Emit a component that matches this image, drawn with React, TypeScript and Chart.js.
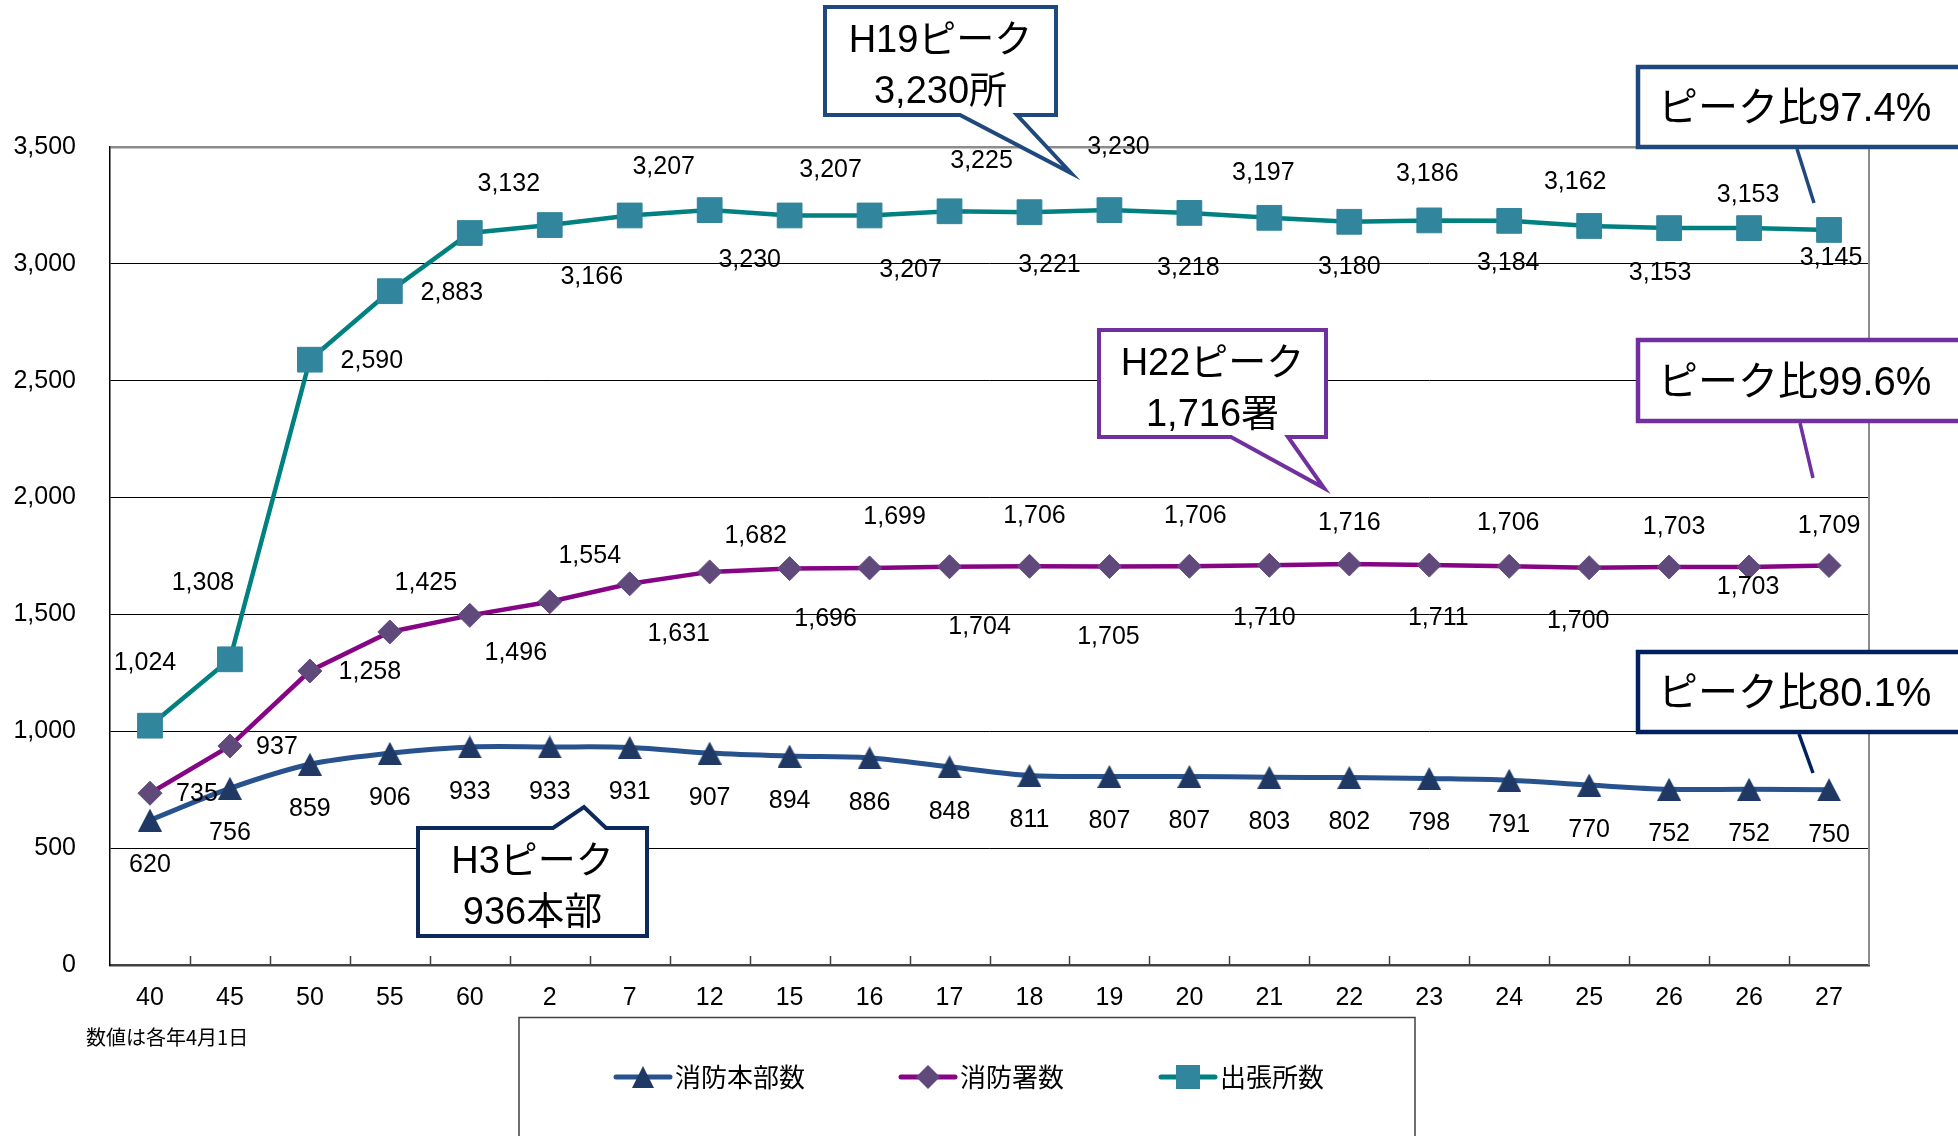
import React, { useEffect, useRef } from 'react';
import { Chart, registerables } from 'chart.js';

Chart.register(...registerables);

// ---------------- data ----------------
const categories = ['40', '45', '50', '55', '60', '2', '7', '12', '15', '16', '17', '18', '19', '20', '21', '22', '23', '24', '25', '26', '26', '27'];
const headquarters = [620, 756, 859, 906, 933, 933, 931, 907, 894, 886, 848, 811, 807, 807, 803, 802, 798, 791, 770, 752, 752, 750];
const fireStations = [735, 937, 1258, 1425, 1496, 1554, 1631, 1682, 1696, 1699, 1704, 1706, 1705, 1706, 1710, 1716, 1711, 1706, 1700, 1703, 1703, 1709];
const branchOffices = [1024, 1308, 2590, 2883, 3132, 3166, 3207, 3230, 3207, 3207, 3225, 3221, 3230, 3218, 3197, 3180, 3186, 3184, 3162, 3153, 3153, 3145];
const seriesNames = ['消防本部数', '消防署数', '出張所数'];
const yAxisMin = 0;
const yAxisMax = 3500;
const yAxisStep = 500;
const noteText = '数値は各年4月1日';

// ---------------- styling / placement ----------------
const W = 1958;
const H = 1136;
const LATIN = '"Liberation Sans", Arial, "Noto Sans CJK JP", sans-serif';
const CJK = '"Noto Sans CJK JP", "Liberation Sans", sans-serif';

const NAVY_LINE = '#28528D';
const NAVY_MARK = '#1F3864';
const PURPLE_LINE = '#850585';
const PURPLE_MARK = '#604A7B';
const TEAL_LINE = '#008080';
const TEAL_MARK = '#31859C';

// pixel offsets of each value label from its point (label placement only)
const hqLabelOffset = [0, 44];
const stationLabelOffsets = [
  [47, 0], [47, 0], [60, 0], [36, -50], [46, 37], [40, -47], [49, 49], [46, -37], [36, 49], [25, -52], [30, 59],
  [5, -51], [-1, 70], [6, -51], [-5, 52], [0, -42], [9, 52], [-1, -44], [-11, 52], [5, -41], [-1, 19], [0, -40],
];
const branchLabelOffsets = [
  [-5, -64], [-27, -77], [62, 0], [62, 1], [39, -50], [42, 51], [34, -49], [40, 49], [41, -46], [41, 54], [32, -51],
  [20, 52], [9, -64], [-1, 54], [-6, -46], [0, 44], [-2, -47], [-1, 41], [-14, -45], [-9, 44], [-1, -34], [2, 27],
];

const bubbleCallouts = [
  { lines: ['H19ピーク', '3,230所'], color: '#1F497D', box: [825, 7, 1056, 115], edge: 'bottom', a: 960, b: 1017, tip: [1071, 173] },
  { lines: ['H22ピーク', '1,716署'], color: '#7030A0', box: [1099, 330, 1326, 437], edge: 'bottom', a: 1231, b: 1288, tip: [1324, 488] },
  { lines: ['H3ピーク', '936本部'], color: '#0E2A5C', box: [418, 828, 647, 936], edge: 'top', a: 553, b: 606, tip: [584, 807] },
];
const lineCallouts = [
  { text: 'ピーク比97.4%', color: '#1F497D', box: [1638, 67, 1990, 147], from: [1797, 149], to: [1814, 203] },
  { text: 'ピーク比99.6%', color: '#7030A0', box: [1638, 340, 1990, 421], from: [1800, 423], to: [1813, 478] },
  { text: 'ピーク比80.1%', color: '#002060', box: [1638, 652, 1990, 732], from: [1799, 734], to: [1813, 773] },
];

const fmt = (v: number) => v.toLocaleString('en-US');

// triangle marker image, centred on its bounding box like the original
function makeTriangle(w: number, h: number, color: string) {
  const c = document.createElement('canvas');
  c.width = w;
  c.height = h;
  const g = c.getContext('2d')!;
  g.fillStyle = color;
  g.beginPath();
  g.moveTo(w / 2, 0);
  g.lineTo(w, h);
  g.lineTo(0, h);
  g.closePath();
  g.fill();
  return c;
}

function drawMarker(ctx: CanvasRenderingContext2D, style: string, x: number, y: number, r: number, color: string) {
  ctx.beginPath();
  if (style === 'triangle') {
    ctx.moveTo(x, y - r);
    ctx.lineTo(x + r, y + r);
    ctx.lineTo(x - r, y + r);
  } else if (style === 'rectRot') {
    ctx.moveTo(x - r, y);
    ctx.lineTo(x, y - r);
    ctx.lineTo(x + r, y);
    ctx.lineTo(x, y + r);
  } else {
    ctx.rect(x - r, y - r, 2 * r, 2 * r);
  }
  ctx.closePath();
  ctx.fillStyle = color;
  ctx.fill();
}

const decorPlugin = {
  id: 'decor',
  beforeDatasetsDraw(chart: any) {
    const { ctx, chartArea, scales } = chart;
    const xs = scales.x;
    ctx.save();
    ctx.strokeStyle = '#8c8c8c';
    ctx.lineWidth = 2;
    ctx.beginPath();
    ctx.moveTo(chartArea.right, chartArea.top);
    ctx.lineTo(chartArea.right, chartArea.bottom);
    ctx.stroke();
    const step = xs.getPixelForValue(1) - xs.getPixelForValue(0);
    ctx.strokeStyle = '#404040';
    ctx.lineWidth = 1.5;
    for (let i = 1; i < categories.length; i++) {
      const px = Math.round(xs.getPixelForValue(i) - step / 2) + 0.5;
      ctx.beginPath();
      ctx.moveTo(px, chartArea.bottom);
      ctx.lineTo(px, chartArea.bottom - 9);
      ctx.stroke();
    }
    ctx.restore();
  },
  afterDatasetsDraw(chart: any) {
    const { ctx } = chart;
    ctx.save();
    ctx.font = `25px ${LATIN}`;
    ctx.fillStyle = '#000';
    ctx.textAlign = 'center';
    ctx.textBaseline = 'middle';
    const sets = [
      { values: headquarters, offs: headquarters.map(() => hqLabelOffset) },
      { values: fireStations, offs: stationLabelOffsets },
      { values: branchOffices, offs: branchLabelOffsets },
    ];
    sets.forEach((s, di) => {
      const meta = chart.getDatasetMeta(di);
      meta.data.forEach((pt: any, i: number) => {
        const o = s.offs[i];
        ctx.fillText(fmt(s.values[i]), pt.x + o[0], pt.y + o[1] + 1);
      });
    });
    ctx.restore();
  },
  afterDraw(chart: any) {
    const { ctx } = chart;
    ctx.save();
    // bubble callouts
    bubbleCallouts.forEach((c) => {
      const [l, t, r, b] = c.box;
      ctx.beginPath();
      ctx.moveTo(l, t);
      if (c.edge === 'top') {
        ctx.lineTo(c.a, t);
        ctx.lineTo(c.tip[0], c.tip[1]);
        ctx.lineTo(c.b, t);
      }
      ctx.lineTo(r, t);
      ctx.lineTo(r, b);
      if (c.edge === 'bottom') {
        ctx.lineTo(c.b, b);
        ctx.lineTo(c.tip[0], c.tip[1]);
        ctx.lineTo(c.a, b);
      }
      ctx.lineTo(l, b);
      ctx.closePath();
      ctx.fillStyle = '#fff';
      ctx.fill();
      ctx.lineWidth = 4;
      ctx.lineJoin = 'miter';
      ctx.strokeStyle = c.color;
      ctx.stroke();
      ctx.fillStyle = '#000';
      ctx.font = `38px ${LATIN}`;
      ctx.textAlign = 'center';
      ctx.textBaseline = 'middle';
      const cx = (l + r) / 2;
      ctx.fillText(c.lines[0], cx, t + 35);
      ctx.fillText(c.lines[1], cx, t + 86);
    });
    // line callouts
    lineCallouts.forEach((c) => {
      const [l, t, r, b] = c.box;
      ctx.strokeStyle = c.color;
      ctx.lineWidth = 3.5;
      ctx.beginPath();
      ctx.moveTo(c.from[0], c.from[1]);
      ctx.lineTo(c.to[0], c.to[1]);
      ctx.stroke();
      ctx.fillStyle = '#fff';
      ctx.fillRect(l, t, r - l, b - t);
      ctx.lineWidth = 4.5;
      ctx.strokeRect(l, t, r - l, b - t);
      ctx.fillStyle = '#000';
      ctx.font = `40px ${LATIN}`;
      ctx.textAlign = 'left';
      ctx.textBaseline = 'middle';
      ctx.fillText(c.text, l + 20, (t + b) / 2 + 3);
    });
    // legend
    ctx.strokeStyle = '#404040';
    ctx.lineWidth = 1.5;
    ctx.strokeRect(519, 1017.5, 1415 - 519, 140);
    const legendItems = [
      { x: 616, color: NAVY_LINE, mark: NAVY_MARK, style: 'triangle', r: 11 },
      { x: 901, color: PURPLE_LINE, mark: PURPLE_MARK, style: 'rectRot', r: 12 },
      { x: 1161, color: TEAL_LINE, mark: TEAL_MARK, style: 'rect', r: 12 },
    ];
    const ly = 1077;
    legendItems.forEach((it, i) => {
      ctx.strokeStyle = it.color;
      ctx.lineWidth = 5;
      ctx.lineCap = 'round';
      ctx.beginPath();
      ctx.moveTo(it.x, ly);
      ctx.lineTo(it.x + 54, ly);
      ctx.stroke();
      drawMarker(ctx, it.style, it.x + 27, ly, it.r, it.mark);
      ctx.fillStyle = '#000';
      ctx.font = `26px ${CJK}`;
      ctx.textAlign = 'left';
      ctx.textBaseline = 'middle';
      ctx.fillText(seriesNames[i], it.x + 59, ly);
    });
    // note
    ctx.font = `20px ${CJK}`;
    ctx.fillStyle = '#000';
    ctx.textAlign = 'left';
    ctx.textBaseline = 'middle';
    ctx.fillText(noteText, 86, 1037);
    ctx.restore();
  },
};

export default function App() {
  const ref = useRef<HTMLCanvasElement | null>(null);
  useEffect(() => {
    document.body.style.margin = '0';
    document.body.style.overflow = 'hidden';
    const canvas = ref.current;
    if (!canvas) return;
    const triangle = makeTriangle(24, 23, NAVY_MARK);
    const chart = new Chart(canvas, {
      type: 'line',
      data: {
        labels: categories,
        datasets: [
          {
            label: seriesNames[0], data: headquarters, borderColor: NAVY_LINE, backgroundColor: NAVY_MARK,
            borderWidth: 5, tension: 0.35, pointStyle: triangle, pointRadius: 12,
            pointBackgroundColor: NAVY_MARK, pointBorderColor: NAVY_MARK, pointBorderWidth: 0, fill: false,
          },
          {
            label: seriesNames[1], data: fireStations, borderColor: PURPLE_LINE, backgroundColor: PURPLE_MARK,
            borderWidth: 4.5, tension: 0, pointStyle: 'rectRot', pointRadius: 12,
            pointBackgroundColor: PURPLE_MARK, pointBorderColor: PURPLE_MARK, pointBorderWidth: 1, fill: false,
          },
          {
            label: seriesNames[2], data: branchOffices, borderColor: TEAL_LINE, backgroundColor: TEAL_MARK,
            borderWidth: 4.5, tension: 0, pointStyle: 'rect', pointRadius: 17.5,
            pointBackgroundColor: TEAL_MARK, pointBorderColor: TEAL_MARK, pointBorderWidth: 1, fill: false,
          },
        ],
      },
      options: {
        responsive: false,
        animation: false,
        devicePixelRatio: 1,
        layout: { padding: { left: 0, top: 147, right: 89, bottom: 0 } },
        plugins: { legend: { display: false }, tooltip: { enabled: false }, title: { display: false } },
        scales: {
          x: {
            type: 'category',
            offset: true,
            grid: { display: false, drawTicks: false },
            border: { display: true, color: '#404040', width: 2.5 },
            ticks: { font: { family: LATIN, size: 25 }, color: '#000', padding: 18, autoSkip: false, maxRotation: 0, minRotation: 0 },
            afterFit: (s: any) => { s.height = 171; },
          },
          y: {
            min: yAxisMin,
            max: yAxisMax,
            ticks: {
              stepSize: yAxisStep, font: { family: LATIN, size: 25 }, color: '#000', padding: 34,
              callback: (v: any) => fmt(Number(v)),
            },
            grid: {
              drawTicks: false,
              color: (c: any) => (c.tick && c.tick.value === yAxisMax ? '#8c8c8c' : '#000'),
              lineWidth: (c: any) => (c.tick && c.tick.value === yAxisMax ? 2.5 : 1),
            },
            border: { display: true, color: '#000', width: 1.5 },
            afterFit: (s: any) => { s.width = 110; },
          },
        },
      },
      plugins: [decorPlugin],
    } as any);
    return () => chart.destroy();
  }, []);
  return (
    <div style={{ position: 'absolute', left: 0, top: 0, width: W, height: H, background: '#fff' }}>
      <canvas ref={ref} width={W} height={H} style={{ display: 'block', width: W, height: H }} />
    </div>
  );
}
